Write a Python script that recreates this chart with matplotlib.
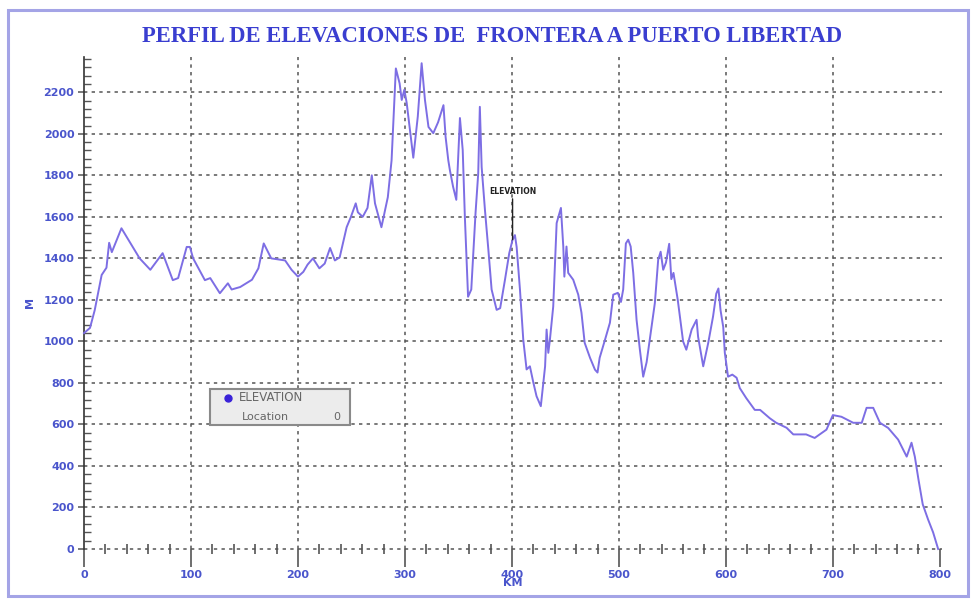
import matplotlib
matplotlib.use("Agg")
import matplotlib.pyplot as plt
from matplotlib.patches import Rectangle
from matplotlib.ticker import MultipleLocator

# Elevation profile: distance (km) and elevation (m)
distance_km = [0, 5.6, 10, 16.5, 21, 23.5, 26, 35, 52, 62, 73.5, 83, 88, 96, 99, 102, 113, 118,
               127, 134.5, 138, 146, 157, 163, 168, 175, 188, 194, 200, 205, 209, 214, 220, 225,
               230, 234.5, 239, 245.5, 249.5, 254, 256, 260.5, 265, 269, 272, 278, 284, 287.5,
               291.5, 295, 297, 299.4, 301.6, 307.8, 312, 315.6, 318.7, 322, 326.5, 331, 336,
               338, 340.5, 342, 345, 348, 351.4, 354, 356, 359, 362, 366, 368.5, 370, 371.7,
               374.8, 378, 381, 385.7, 389, 393.5, 397.5, 400.6, 402.8, 404.4, 407.5, 410.6,
               413.7, 416.8, 420, 423, 427, 431, 432.4, 434, 435.5, 438.6, 441.8, 445.8, 448,
               449, 451, 452.6, 457.3, 462, 465, 468, 473, 477.6, 480, 482, 487, 491.6, 494.7,
               499, 501.9, 504, 506.5, 508.7, 511, 513.4, 516.5, 519.6, 522.7, 525.9, 530.5,
               533.6, 536.7, 539, 541.4, 544, 547, 549, 551, 555, 560, 563, 568, 572.6, 574,
               578.8, 583.5, 588, 591, 593, 595, 597.5, 599, 602, 606, 610, 613, 619, 627, 632,
               641, 647, 656.7, 663, 675, 683, 694, 700, 708, 719, 727, 731.5, 737.7, 744,
               751.7, 761, 769, 773.5, 776.6, 780, 784, 789, 793.7, 798.4]
elevation_m = [1040, 1065, 1150, 1320, 1355, 1475, 1430, 1545, 1400, 1345, 1425, 1295, 1305, 1455,
               1455, 1400, 1295, 1305, 1232, 1280, 1250, 1262, 1297, 1352, 1472, 1400, 1390, 1345,
               1312, 1335, 1370, 1400, 1352, 1375, 1450, 1390, 1405, 1550, 1600, 1665, 1622, 1600,
               1643, 1800, 1665, 1550, 1695, 1872, 2315, 2243, 2163, 2212, 2150, 1885, 2083, 2340,
               2163, 2033, 2003, 2056, 2138, 1985, 1873, 1825, 1745, 1682, 2076, 1922, 1600, 1215,
               1250, 1620, 1810, 2130, 1840, 1632, 1440, 1250, 1152, 1160, 1297, 1425, 1490, 1512,
               1455, 1250, 1008, 865, 880, 802, 736, 688, 880, 1057, 945, 1008, 1168, 1570, 1643,
               1457, 1312, 1457, 1330, 1297, 1225, 1138, 993, 921, 864, 850, 921, 1008, 1090, 1225,
               1234, 1190, 1250, 1472, 1490, 1457, 1330, 1104, 960, 830, 900, 1070, 1185, 1393,
               1432, 1345, 1380, 1470, 1300, 1330, 1200, 1000, 960, 1057, 1104, 1023, 880, 993,
               1120, 1230, 1255, 1150, 1070, 945, 830, 840, 825, 775, 727, 670, 670, 630, 608, 584,
               552, 552, 535, 575, 645, 637, 608, 608, 680, 680, 608, 583, 527, 445, 512, 445, 335,
               215, 142, 80, 0]

x_major = [0, 100, 200, 300, 400, 500, 600, 700, 800]
y_major = [0, 200, 400, 600, 800, 1000, 1200, 1400, 1600, 1800, 2000, 2200]

title = "PERFIL DE ELEVACIONES DE  FRONTERA A PUERTO LIBERTAD"
blue_text = "#4a55cc"
line_color = "#7d6ee4"
grid_color = "#555555"

W, H = 972, 599
fig = plt.figure(figsize=(W / 100, H / 100), dpi=100)
fig.patch.set_facecolor("white")

# outer frame of the figure
fig.add_artist(Rectangle((8 / W, 3 / H), 960 / W, 586 / H, transform=fig.transFigure,
                         fill=False, edgecolor="#a4a4e6", linewidth=2.2))

ax = fig.add_axes([84 / W, 50 / H, 858 / W, 492 / H])
ax.set_xlim(0, 802)
ax.set_ylim(0, 2370)
ax.set_facecolor("white")

for side in ("top", "right", "bottom"):
    ax.spines[side].set_visible(False)
ax.spines["left"].set_color("#333333")
ax.spines["left"].set_linewidth(1.2)

# dotted grid
dash = (0, (2.2, 2.8))
for xv in x_major[1:-1]:
    ax.axvline(xv, color=grid_color, linestyle=dash, linewidth=1.1, zorder=1)
for yv in y_major:
    ax.axhline(yv, color=grid_color, linestyle=dash, linewidth=1.1, zorder=1, clip_on=False)

ax.set_xticks(x_major)
ax.set_yticks(y_major)
ax.xaxis.set_minor_locator(MultipleLocator(20))
ax.yaxis.set_minor_locator(MultipleLocator(40))
ax.tick_params(axis="x", which="major", direction="out", length=13, width=1.2,
               color="#555555", pad=2)
ax.tick_params(axis="x", which="minor", direction="inout", length=7, width=1.2,
               color="#555555")
ax.tick_params(axis="y", which="major", direction="out", length=4, width=1.1,
               color="#555555", pad=3)
ax.tick_params(axis="y", which="minor", direction="in", length=5, width=1.0,
               color="#555555")
for lab in ax.get_xticklabels() + ax.get_yticklabels():
    lab.set_color(blue_text)
    lab.set_fontsize(8)
    lab.set_fontweight("bold")

ax.set_xlabel("KM", color=blue_text, fontsize=8, fontweight="bold", labelpad=-1)
ax.set_ylabel("M", color=blue_text, fontsize=8, fontweight="bold", labelpad=6)

ax.plot(distance_km, elevation_m, color=line_color, linewidth=1.4, zorder=3, clip_on=False)

# marker label at the current location
ax.annotate("ELEVATION", xy=(400.6, 1490), xytext=(400.6, 1700),
            ha="center", va="bottom", fontsize=5.5, fontweight="bold", color="#222222",
            arrowprops=dict(arrowstyle="-", color="#222222", linewidth=1.0,
                            shrinkA=0, shrinkB=0))

# info box
box_x0, box_x1 = 0.147, 0.31
box_y0, box_y1 = 0.252, 0.325
ax.add_patch(Rectangle((box_x0, box_y0), box_x1 - box_x0, box_y1 - box_y0,
                       transform=ax.transAxes, facecolor="#ececec", edgecolor="#8a8a8a",
                       linewidth=1.5, zorder=5))
ax.plot([box_x0 + 0.021], [box_y1 - 0.018], marker="o", markersize=5, color="#3a22d8",
        transform=ax.transAxes, zorder=6, clip_on=False)
ax.text(box_x0 + 0.034, box_y1 - 0.018, "ELEVATION", transform=ax.transAxes, fontsize=8.5,
        color="#666666", va="center", ha="left", zorder=6)
ax.text(box_x0 + 0.037, box_y0 + 0.016, "Location", transform=ax.transAxes, fontsize=8,
        color="#666666", va="center", ha="left", zorder=6)
ax.text(box_x1 - 0.011, box_y0 + 0.016, "0", transform=ax.transAxes, fontsize=8,
        color="#666666", va="center", ha="right", zorder=6)

fig.text(492 / W, 1 - 37 / H, title, ha="center", va="center",
         fontsize=16.3, fontweight="bold", color="#3a3ed0", family="Liberation Serif")

fig.savefig("out.png", dpi=100)
